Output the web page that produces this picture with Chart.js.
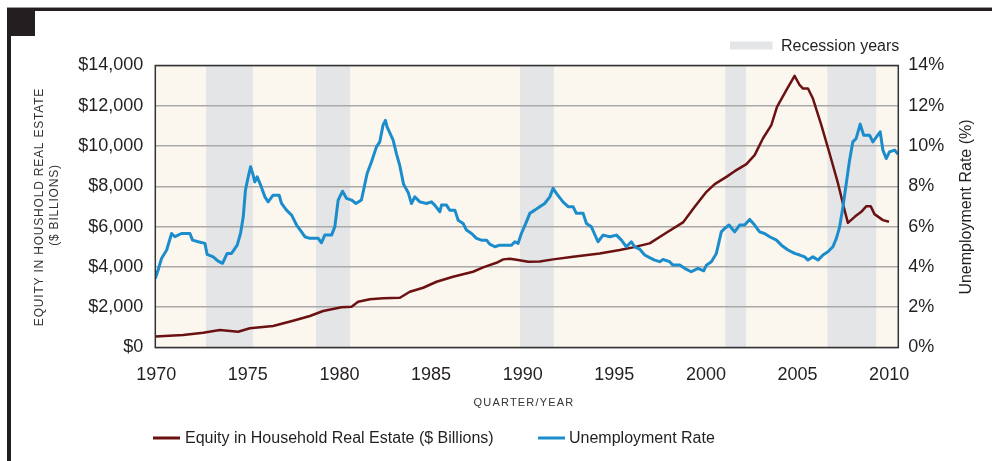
<!DOCTYPE html>
<html>
<head>
<meta charset="utf-8">
<script src="https://cdn.jsdelivr.net/npm/chart.js@4.4.0/dist/chart.umd.min.js"></script>
<style>
  html, body { margin: 0; padding: 0; background: #fff; }
  #wrap { position: relative; width: 992px; height: 461px; }
</style>
</head>
<body>
<div id="wrap"><canvas id="chart"></canvas></div>
<script>
// Unemployment rate (%)
const unempYears = [1969.95, 1970.12, 1970.29, 1970.57, 1970.84, 1971.02, 1971.38, 1971.84, 1971.98, 1972.29,
  1972.66, 1972.78, 1973.11, 1973.38, 1973.62, 1973.87, 1974.11, 1974.42, 1974.6, 1974.75,
  1974.87, 1975.02, 1975.15, 1975.29, 1975.38, 1975.51, 1975.7, 1975.93, 1976.11, 1976.38,
  1976.71, 1976.84, 1977.11, 1977.39, 1977.66, 1977.93, 1978.11, 1978.39, 1978.84, 1979.02,
  1979.2, 1979.57, 1979.75, 1979.93, 1980.17, 1980.39, 1980.66, 1980.9, 1981.2, 1981.51,
  1981.75, 1982.02, 1982.2, 1982.38, 1982.51, 1982.6, 1982.93, 1983.11, 1983.3, 1983.5,
  1983.75, 1983.93, 1984.11, 1984.39, 1984.75, 1985.02, 1985.2, 1985.48, 1985.57, 1985.84,
  1986.02, 1986.3, 1986.48, 1986.75, 1986.93, 1987.21, 1987.48, 1987.75, 1988.03, 1988.2,
  1988.48, 1988.75, 1989.39, 1989.57, 1989.75, 1989.93, 1990.17, 1990.39, 1990.66, 1990.93,
  1991.2, 1991.48, 1991.66, 1991.84, 1992.2, 1992.48, 1992.75, 1992.93, 1993.3, 1993.48,
  1993.75, 1994.11, 1994.39, 1994.75, 1995.12, 1995.39, 1995.66, 1995.93, 1996.11, 1996.39,
  1996.66, 1996.93, 1997.2, 1997.48, 1997.66, 1998.02, 1998.2, 1998.57, 1998.84, 1999.2,
  1999.57, 1999.88, 2000.03, 2000.3, 2000.57, 2000.84, 2001.02, 2001.26, 2001.57, 2001.84,
  2002.11, 2002.39, 2002.66, 2002.93, 2003.2, 2003.48, 2003.85, 2004.12, 2004.48, 2004.84,
  2005.12, 2005.39, 2005.57, 2005.84, 2006.12, 2006.39, 2006.66, 2006.93, 2007.12, 2007.3,
  2007.48, 2007.66, 2007.84, 2008.02, 2008.2, 2008.42, 2008.61, 2008.93, 2009.11, 2009.51,
  2009.66, 2009.84, 2010.02, 2010.3, 2010.48];
const unempRates = [3.43, 3.9, 4.42, 4.84, 5.66, 5.5, 5.66, 5.66, 5.33, 5.25,
  5.17, 4.62, 4.5, 4.29, 4.18, 4.67, 4.67, 5.08, 5.66, 6.49,
  7.81, 8.47, 8.97, 8.56, 8.22, 8.47, 8.06, 7.48, 7.23, 7.56,
  7.56, 7.15, 6.82, 6.57, 6.08, 5.74, 5.5, 5.42, 5.42, 5.2,
  5.58, 5.58, 6.0, 7.32, 7.76, 7.4, 7.32, 7.15, 7.32, 8.64,
  9.22, 9.96, 10.21, 11.04, 11.28, 10.95, 10.29, 9.63, 9.0, 8.1,
  7.7, 7.15, 7.48, 7.23, 7.15, 7.23, 7.07, 6.74, 7.07, 7.07,
  6.82, 6.82, 6.32, 6.16, 5.83, 5.66, 5.42, 5.33, 5.33, 5.13,
  5.0, 5.08, 5.08, 5.25, 5.17, 5.66, 6.16, 6.66, 6.82, 6.99,
  7.15, 7.48, 7.9, 7.65, 7.23, 6.99, 6.99, 6.66, 6.66, 6.16,
  5.99, 5.25, 5.58, 5.5, 5.58, 5.33, 5.0, 5.25, 5.0, 4.88,
  4.59, 4.46, 4.34, 4.26, 4.37, 4.26, 4.09, 4.09, 3.93, 3.76,
  3.93, 3.81, 4.09, 4.26, 4.67, 5.74, 5.91, 6.08, 5.74, 6.08,
  6.08, 6.36, 6.08, 5.74, 5.66, 5.5, 5.33, 5.08, 4.84, 4.67,
  4.59, 4.5, 4.34, 4.5, 4.34, 4.59, 4.75, 5.0, 5.42, 5.99,
  6.99, 8.14, 9.3, 10.21, 10.38, 11.09, 10.54, 10.54, 10.21, 10.71,
  9.8, 9.38, 9.71, 9.8, 9.6];

// Equity in household real estate ($ billions)
const equityYears = [1969.95, 1971.47, 1972.56, 1973.48, 1974.47, 1975.11, 1976.38, 1977.47, 1978.39, 1979.11,
  1980.11, 1980.66, 1981.02, 1981.66, 1982.38, 1983.3, 1983.84, 1984.57, 1985.3, 1986.2,
  1987.29, 1987.84, 1988.57, 1988.94, 1989.3, 1989.75, 1990.3, 1990.93, 1991.66, 1992.75,
  1994.2, 1995.3, 1996.02, 1996.93, 1997.84, 1998.75, 1999.39, 2000.03, 2000.48, 2001.12,
  2001.57, 2002.21, 2002.66, 2003.11, 2003.57, 2003.88, 2004.39, 2004.84, 2005.12, 2005.3,
  2005.57, 2005.84, 2006.3, 2006.75, 2007.21, 2007.52, 2007.75, 2008.12, 2008.48, 2008.76,
  2008.99, 2009.2, 2009.66, 2009.99];
const equityValues = [540, 620, 734, 868, 784, 952, 1066, 1329, 1562, 1810,
  1994, 2024, 2272, 2391, 2440, 2470, 2768, 2966, 3264, 3512,
  3760, 3978, 4206, 4375, 4405, 4340, 4256, 4270, 4375, 4504,
  4672, 4836, 4970, 5168, 5694, 6210, 6984, 7728, 8110, 8472,
  8754, 9102, 9548, 10376, 11036, 11944, 12772, 13482, 13020, 12856,
  12856, 12360, 11036, 9632, 8144, 6984, 6190, 6488, 6736, 7018,
  7018, 6622, 6324, 6240];

// Shaded recession years as drawn
const recessionStarts = [1972.72, 1978.72, 1989.86, 2001.06, 2006.63];
const recessionEnds = [1975.27, 1980.58, 1991.7, 2002.19, 2009.29];

const yearTicks = [1970, 1975, 1980, 1985, 1990, 1995, 2000, 2005, 2010];
const equityTicks = [0, 2000, 4000, 6000, 8000, 10000, 12000, 14000];
const rateTicks = [0, 2, 4, 6, 8, 10, 12, 14];

const FONT = "'Liberation Sans', Arial, Helvetica, sans-serif";
const INK = '#231f20';
const MAROON = '#6b1111';
const BLUE = '#1b8ccc';

const decor = {
  id: 'decor',
  beforeDraw(chart) {
    const { ctx, chartArea: a, scales } = chart;
    ctx.save();
    ctx.fillStyle = '#fff';
    ctx.fillRect(0, 0, chart.width, chart.height);
    ctx.fillStyle = '#fbf6ee';
    ctx.fillRect(a.left, a.top, a.right - a.left, a.bottom - a.top);
    ctx.fillStyle = '#e4e5e7';
    recessionStarts.forEach((s, i) => {
      const x0 = scales.x.getPixelForValue(s);
      const x1 = scales.x.getPixelForValue(recessionEnds[i]);
      ctx.fillRect(x0, a.top, x1 - x0, a.bottom - a.top);
    });
    ctx.restore();
  },
  afterDraw(chart) {
    const { ctx, chartArea: a } = chart;
    ctx.save();
    // plot frame
    ctx.strokeStyle = '#333';
    ctx.lineWidth = 1.5;
    ctx.strokeRect(a.left, a.top, a.right - a.left, a.bottom - a.top);

    // page rules and corner block
    ctx.fillStyle = '#999';
    ctx.fillRect(7, 7, chart.width - 7, 1);
    ctx.fillStyle = INK;
    ctx.fillRect(7, 8, chart.width - 7, 3);
    ctx.fillRect(7, 8, 4, chart.height - 8);
    ctx.fillRect(11, 11, 24, 25);

    // recession legend
    ctx.fillStyle = '#e4e5e7';
    ctx.fillRect(730, 41.5, 42.5, 8);
    ctx.fillStyle = INK;
    ctx.font = '16px ' + FONT;
    ctx.textBaseline = 'middle';
    ctx.textAlign = 'left';
    ctx.fillText('Recession years', 781, 46.5);

    // bottom legend
    ctx.lineWidth = 3;
    ctx.strokeStyle = MAROON;
    ctx.beginPath(); ctx.moveTo(153, 438); ctx.lineTo(180, 438); ctx.stroke();
    ctx.fillText('Equity in Household Real Estate ($ Billions)', 185, 439);
    ctx.strokeStyle = BLUE;
    ctx.beginPath(); ctx.moveTo(538, 438); ctx.lineTo(565, 438); ctx.stroke();
    ctx.fillText('Unemployment Rate', 569, 439);

    // axis titles
    ctx.textAlign = 'center';
    ctx.fillStyle = '#333';
    ctx.font = '11px ' + FONT;
    ctx.letterSpacing = '1.2px';
    ctx.fillText('QUARTER/YEAR', 524, 403);

    ctx.font = '12px ' + FONT;
    ctx.letterSpacing = '0.8px';
    ctx.save();
    ctx.translate(40, 207);
    ctx.rotate(-Math.PI / 2);
    ctx.fillText('EQUITY IN HOUSHOLD REAL ESTATE', 0, 0);
    ctx.restore();
    ctx.save();
    ctx.translate(55, 205);
    ctx.rotate(-Math.PI / 2);
    ctx.fillText('($ BILLIONS)', 0, 0);
    ctx.restore();

    ctx.letterSpacing = '0px';
    ctx.fillStyle = INK;
    ctx.font = '16px ' + FONT;
    ctx.translate(967, 207);
    ctx.rotate(-Math.PI / 2);
    ctx.fillText('Unemployment Rate (%)', 0, 0);
    ctx.restore();
  }
};

const ctx = document.getElementById('chart').getContext('2d');
new Chart(ctx, {
  type: 'line',
  data: {
    datasets: [
      {
        label: 'Unemployment Rate',
        data: unempYears.map((x, i) => ({ x: x, y: unempRates[i] })),
        yAxisID: 'y1',
        borderColor: BLUE,
        borderWidth: 3,
        pointRadius: 0,
        tension: 0,
        borderJoinStyle: 'round',
        order: 1
      },
      {
        label: 'Equity in Household Real Estate ($ Billions)',
        data: equityYears.map((x, i) => ({ x: x, y: equityValues[i] })),
        yAxisID: 'y',
        borderColor: MAROON,
        borderWidth: 2.5,
        pointRadius: 0,
        tension: 0,
        borderJoinStyle: 'round',
        order: 2
      }
    ]
  },
  options: {
    responsive: true,
    maintainAspectRatio: false,
    animation: false,
    layout: { padding: { top: 65.5, left: 0, right: 0, bottom: 0 } },
    plugins: {
      legend: { display: false },
      tooltip: { enabled: false }
    },
    scales: {
      x: {
        type: 'linear',
        min: 1969.95,
        max: 2010.5,
        afterBuildTicks: s => { s.ticks = yearTicks.map(v => ({ value: v })); },
        afterFit: s => { s.height = 461 - 347.5; },
        grid: { display: false, drawTicks: false, tickLength: 0 },
        border: { display: false },
        ticks: {
          callback: v => String(v),
          font: { family: FONT, size: 18 },
          color: INK,
          padding: 17,
          maxRotation: 0,
          autoSkip: false
        }
      },
      y: {
        position: 'left',
        min: 0,
        max: 14000,
        afterBuildTicks: s => { s.ticks = equityTicks.map(v => ({ value: v })); },
        afterFit: s => { s.width = 155.3; },
        grid: { color: '#a9a9a9', lineWidth: 1.5, drawTicks: false },
        border: { display: false },
        ticks: {
          callback: v => '$' + v.toLocaleString('en-US'),
          font: { family: FONT, size: 18 },
          color: INK,
          padding: 12
        }
      },
      y1: {
        position: 'right',
        min: 0,
        max: 14,
        afterBuildTicks: s => { s.ticks = rateTicks.map(v => ({ value: v })); },
        afterFit: s => { s.width = 93.7; },
        grid: { display: false, drawTicks: false },
        border: { display: false },
        ticks: {
          callback: v => v + '%',
          font: { family: FONT, size: 18 },
          color: INK,
          padding: 10
        }
      }
    }
  },
  plugins: [decor]
});
</script>
</body>
</html>
